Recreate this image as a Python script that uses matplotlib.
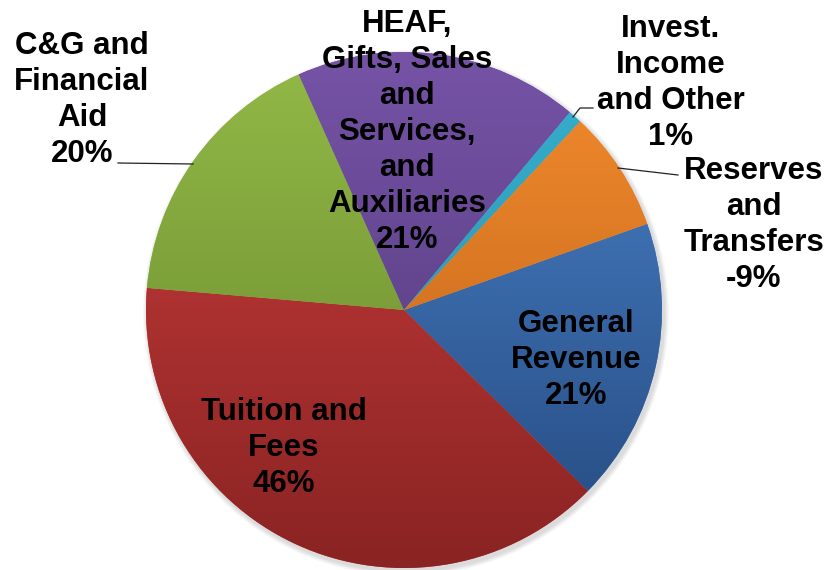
import matplotlib
matplotlib.use("Agg")
import matplotlib.pyplot as plt
import numpy as np
from matplotlib.colors import to_rgb

names = ["General\nRevenue", "Tuition and\nFees", "C&G and\nFinancial\nAid",
         "HEAF,\nGifts, Sales\nand\nServices,\nand\nAuxiliaries",
         "Invest.\nIncome\nand Other", "Reserves\nand\nTransfers"]
shares = [21, 46, 20, 21, 1, -9]

# gradient colours, top of pie -> bottom of pie
tops = ["#4a82c8", "#cc3f3d", "#93b947", "#7653a6", "#36b0cf", "#f38c2e"]
bottoms = ["#24497f", "#8a2323", "#64842b", "#4e3775", "#2a8aa3", "#b85d16"]

W, H = 833, 570
cx, cy, r = 404, H - 310, 258

# label placement in pixels (x centre, top of first line)
label_pos = [(576, 309), (284, 397), (82, 31), (407, 9), (671, 14), (754, 156)]

fig = plt.figure(figsize=(W / 100, H / 100), dpi=100)
ax = fig.add_axes([0, 0, 1, 1])

# soft shadow behind the pie
for k in range(6):
    sh = plt.Circle((cx + 2, cy - 3), r + 1 + k * 0.8, color="#000000", alpha=0.025, lw=0)
    ax.add_patch(sh)

wedges, _ = ax.pie(np.abs(shares), startangle=19.5, counterclock=False,
                   center=(cx, cy), radius=r, colors=tops,
                   wedgeprops=dict(linewidth=0))

t = np.linspace(0, 1, 256)[:, None]
for w, c0, c1 in zip(wedges, tops, bottoms):
    a, b = np.array(to_rgb(c0)), np.array(to_rgb(c1))
    img = a[None, None, :] * (1 - t[..., None]) + b[None, None, :] * t[..., None]
    img = np.repeat(img, 2, axis=1)
    im = ax.imshow(img, extent=(cx - r, cx + r, cy - r, cy + r), origin="upper",
                   interpolation="bilinear", zorder=w.get_zorder() + 0.1)
    im.set_clip_path(w)

for name, v, (x, y) in zip(names, shares, label_pos):
    ax.text(x, H - y, f"{name}\n{v}%", ha="center", va="top", ma="center",
            fontsize=22.5, fontweight="bold", family="Liberation Sans",
            linespacing=1.26, zorder=5)

# leader lines
ax.plot([118, 193], [H - 163, H - 164], color="#222222", lw=0.9, zorder=4)
ax.plot([573, 580, 593], [H - 117, H - 108, H - 108], color="#222222", lw=0.9, zorder=4)
ax.plot([618, 678], [H - 168, H - 175], color="#222222", lw=0.9, zorder=4)

ax.set_xlim(0, W)
ax.set_ylim(0, H)
ax.set_aspect("equal")
ax.axis("off")

fig.savefig("out.png", dpi=100)
